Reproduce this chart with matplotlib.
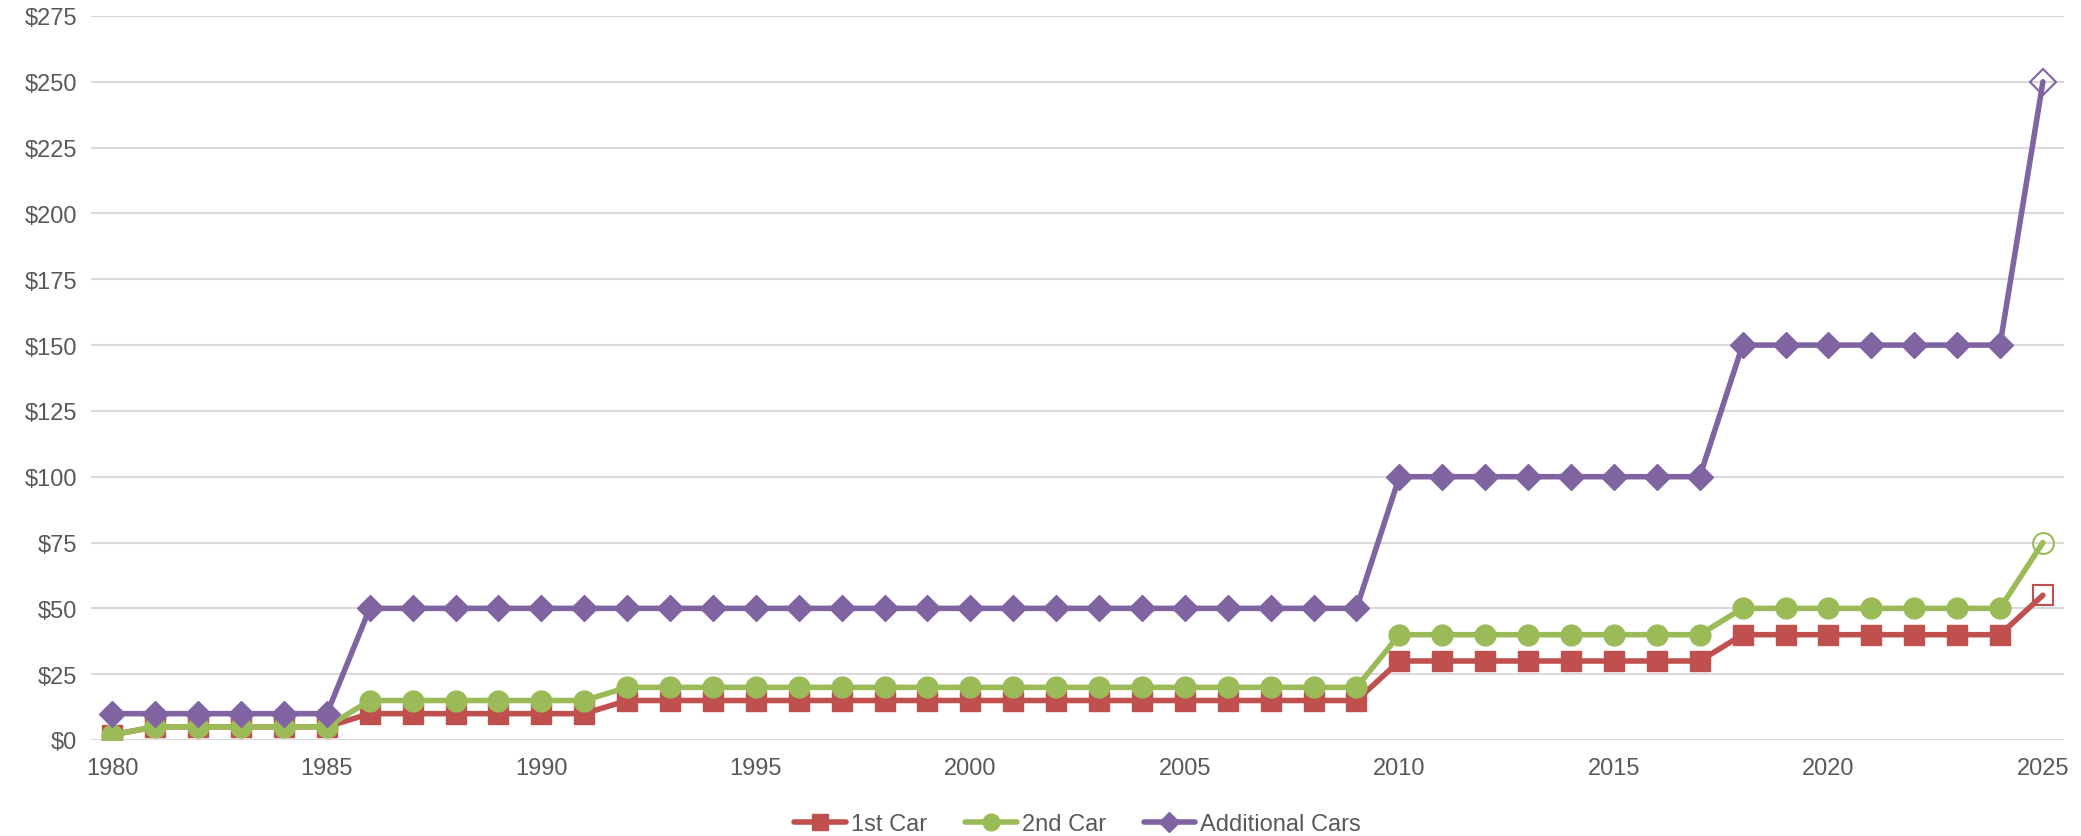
"""車の登録料の推移（1980-2025）を折れ線グラフで再現するスクリプト。

出力:
    - out.png
"""

import matplotlib.pyplot as plt
from matplotlib.ticker import FuncFormatter, MultipleLocator

plt.rcParams["font.family"] = ["Liberation Sans", "DejaVu Sans"]

# データ定義
YEARS = list(range(1980, 2026))
FIRST_CAR = [2] + [5] * 5 + [10] * 6 + [15] * 18 + [30] * 8 + [40] * 7 + [55]
SECOND_CAR = [2] + [5] * 5 + [15] * 6 + [20] * 18 + [40] * 8 + [50] * 7 + [75]
ADDITIONAL_CARS = [10] * 6 + [50] * 24 + [100] * 8 + [150] * 7 + [250]

SERIES = [
    ("1st Car", FIRST_CAR, "#C0504D", "s", 14),
    ("2nd Car", SECOND_CAR, "#9BBB59", "o", 15),
    ("Additional Cars", ADDITIONAL_CARS, "#8064A2", "D", 13),
]

TEXT_COLOR = "#595959"


def main() -> None:
    fig = plt.figure(figsize=(20.81, 8.37), dpi=100)
    ax = fig.add_axes([0.0437, 0.1147, 0.9483, 0.865])

    for label, values, color, marker, ms in SERIES:
        ax.plot(YEARS, values, color=color, linewidth=4.0, solid_capstyle="round",
                marker=marker, markersize=ms, markeredgecolor=color,
                markevery=list(range(len(YEARS) - 1)), label=label, zorder=3)
        # 最終年は白抜きマーカー
        ax.plot(YEARS[-1:], values[-1:], linestyle="none", marker=marker,
                markersize=ms, markerfacecolor="none",
                markeredgecolor=color, markeredgewidth=1.5, zorder=4)

    ax.set_xlim(1979.5, 2025.5)
    ax.set_ylim(0, 275)
    ax.yaxis.set_major_locator(MultipleLocator(25))
    ax.xaxis.set_major_locator(MultipleLocator(5))
    ax.yaxis.set_major_formatter(FuncFormatter(lambda v, _: f"${v:.0f}"))

    ax.grid(axis="y", color="#D9D9D9", linewidth=1.5, zorder=0)
    ax.set_axisbelow(True)
    for spine in ax.spines.values():
        spine.set_visible(False)
    ax.tick_params(axis="both", length=0, labelsize=17, labelcolor=TEXT_COLOR)
    ax.tick_params(axis="x", pad=12)
    ax.tick_params(axis="y", pad=10)

    ax.legend(loc="upper center", bbox_to_anchor=(0.5, -0.072), ncol=3,
              frameon=False, fontsize=17, labelcolor=TEXT_COLOR,
              handlelength=2.2, handletextpad=0.2, columnspacing=1.6,
              markerscale=0.8)

    fig.savefig("out.png", dpi=100)
    plt.close(fig)


if __name__ == "__main__":
    main()
